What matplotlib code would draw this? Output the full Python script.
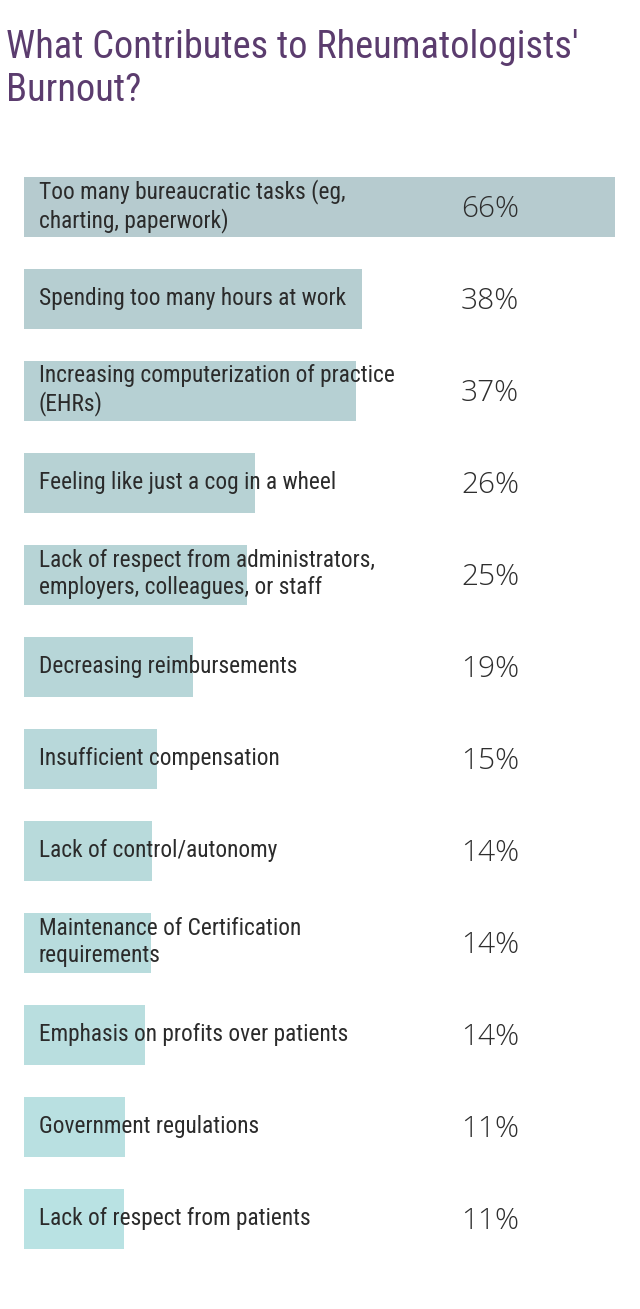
import matplotlib
matplotlib.use("Agg")
import matplotlib.pyplot as plt
from matplotlib import font_manager
import matplotlib.transforms as mtransforms

title = "What Contributes to Rheumatologists'\nBurnout?"
categories = [
    "Too many bureaucratic tasks (eg,\ncharting, paperwork)",
    "Spending too many hours at work",
    "Increasing computerization of practice\n(EHRs)",
    "Feeling like just a cog in a wheel",
    "Lack of respect from administrators,\nemployers, colleagues, or staff",
    "Decreasing reimbursements",
    "Insufficient compensation",
    "Lack of control/autonomy",
    "Maintenance of Certification\nrequirements",
    "Emphasis on profits over patients",
    "Government regulations",
    "Lack of respect from patients",
]
values = [66.0, 37.7, 37.1, 25.8, 24.9, 18.9, 14.9, 14.3, 14.2, 13.5, 11.3, 11.2]
pct_labels = ["66%", "38%", "37%", "26%", "25%", "19%", "15%", "14%", "14%", "14%", "11%", "11%"]
colors = ["#b6cbcf", "#b6ced1", "#b6d0d3", "#b7d2d4", "#b7d4d6", "#b7d6d8",
          "#b8d8da", "#b8dadb", "#b8dcdd", "#b9dedf", "#b9e0e1", "#b9e2e3"]

names = {f.name for f in font_manager.fontManager.ttflist}
label_font = ["Roboto Condensed", "Roboto"] if "Roboto Condensed" in names else ["Roboto"]

W, H = 640, 1309
fig = plt.figure(figsize=(W / 100, H / 100), dpi=100)
fig.patch.set_facecolor("white")

left, right = 24, 615
top, bottom = 161, 1265
ax = fig.add_axes([left / W, 1 - bottom / H, (right - left) / W, (bottom - top) / H])
ax.set_xlim(0, 66)
ax.set_ylim(len(categories) - 0.5, -0.5)
ax.axis("off")

ypos = list(range(len(categories)))
ax.barh(ypos, values, height=60 / 92, color=colors, edgecolor="none")

lab_tr = mtransforms.offset_copy(ax.transData, fig=fig, x=15, y=1, units="dots")
pct_tr = mtransforms.offset_copy(ax.transData, fig=fig, x=0, y=-2, units="dots")
for i, (c, p) in enumerate(zip(categories, pct_labels)):
    ax.text(0, i, c, transform=lab_tr, ha="left", va="center", fontsize=16.8,
            family=label_font, color="#2b2b2b", linespacing=1.22)
    ax.text(48.8, i, p, transform=pct_tr, ha="left", va="center", fontsize=21.5,
            family=["Open Sans", "DejaVu Sans"], fontweight="light", color="#2e2e2e")

fig.text(6 / W, 1 - 29 / H, title, ha="left", va="top", fontsize=27.6,
         family=label_font, color="#5b3c6e", linespacing=1.2)

fig.savefig("out.png", dpi=100, facecolor="white")
